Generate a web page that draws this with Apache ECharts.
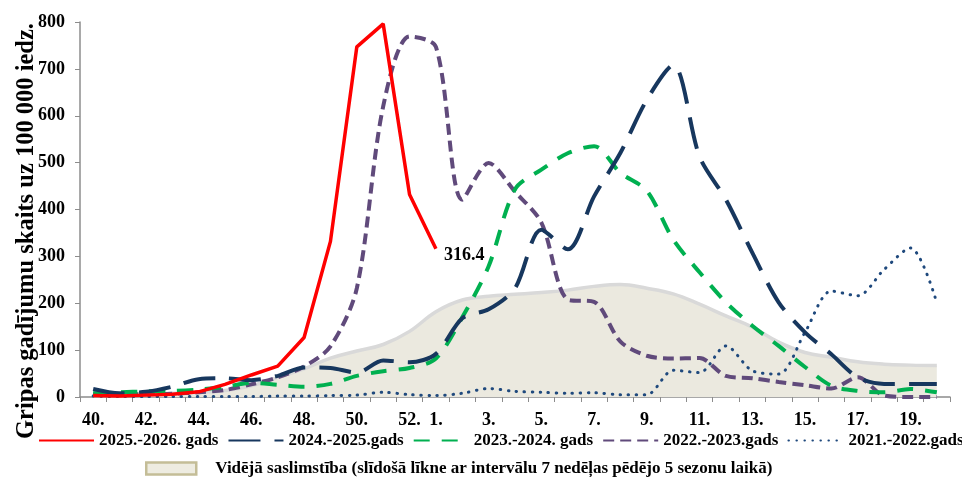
<!DOCTYPE html>
<html>
<head>
<meta charset="utf-8">
<script src="https://cdn.jsdelivr.net/npm/echarts@6/dist/echarts.min.js"></script>
<style>
html,body{margin:0;padding:0;background:#fff;}
#chart{width:962px;height:477px;}
</style>
</head>
<body>
<div id="chart"></div>
<script>
// Weeks (category axis)
const weeks = ['40.','41.','42.','43.','44.','45.','46.','47.','48.','49.','50.','51.','52.',
  '1.','2.','3.','4.','5.','6.','7.','8.','9.','10.','11.','12.','13.','14.','15.','16.','17.','18.','19.','20.'];

const season2526 = [3, 2, 4, 6, 11, 27, 47, 66, 127, 332, 747, 796, 432, 316.4];
const season2425 = [17, 8, 11, 22, 38, 40, 36, 45, 63, 62, 52, 78, 74, 92, 168, 187, 232, 357, 315, 428, 521, 634, 708, 513, 421, 308, 202, 138, 91, 42, 28, 28, 28];
const season2324 = [8, 10, 12, 13, 16, 22, 30, 26, 22, 28, 45, 55, 62, 82, 170, 279, 443, 485, 520, 535, 478, 440, 336, 266, 202, 152, 109, 64, 24, 13, 10, 17, 10];
const season2223 = [6, 5, 6, 7, 10, 15, 27, 42, 65, 108, 232, 620, 769, 747, 421, 499, 438, 372, 208, 203, 118, 88, 82, 83, 45, 40, 32, 25, 18, 42, 3, 0, 0];
const season2122 = [2, 1, 1, 1, 1, 1, 1, 2, 2, 3, 4, 10, 5, 3, 8, 18, 12, 10, 8, 9, 5, 5, 57, 52, 109, 56, 49, 138, 226, 216, 272, 318, 201];
const averageArea = [5, 6, 7, 8, 10, 14, 24, 42, 60, 83, 98, 112, 140, 182, 207, 215, 219, 223, 228, 236, 240, 232, 220, 198, 173, 149, 117, 95, 85, 75, 70, 68, 67];

const names = ['2025.-2026. gads', '2024.-2025.gads', '2023.-2024. gads', '2022.-2023.gads', '2021.-2022.gads'];
const areaName = 'Vidējā saslimstība (slīdošā līkne ar intervālu 7 nedēļas pēdējo 5 sezonu laikā)';
const yTitle = 'Gripas gadījumu skaits uz 100 000 iedz.';

const FONT = "'Liberation Serif', 'Times New Roman', serif";

const chart = echarts.init(document.getElementById('chart'), null, {renderer: 'canvas'});

const option = {
  animation: false,
  backgroundColor: '#ffffff',
  grid: {left: 80, right: 12, top: 22, bottom: 80, containLabel: false},
  xAxis: {
    type: 'category',
    data: weeks,
    boundaryGap: true,
    axisLine: {lineStyle: {color: '#8c8c8c', width: 1.5}},
    axisTick: {show: true, interval: 0, length: 5, lineStyle: {color: '#8c8c8c'}},
    axisLabel: {
      interval: function (idx) { return idx <= 12 ? idx % 2 === 0 : idx % 2 === 1; },
      color: '#000', fontFamily: FONT, fontWeight: 'bold', fontSize: 18, margin: 14
    },
    splitLine: {show: false}
  },
  yAxis: {
    type: 'value',
    min: 0, max: 800, interval: 100,
    axisLine: {show: true, lineStyle: {color: '#8c8c8c', width: 1.5}},
    axisTick: {show: true, length: 5, lineStyle: {color: '#8c8c8c'}},
    axisLabel: {color: '#000', fontFamily: FONT, fontWeight: 'bold', fontSize: 18, margin: 15},
    splitLine: {show: false}
  },
  legend: [
    {
      data: names,
      left: 33, top: 427,
      width: 960,
      itemWidth: 55, itemHeight: 14, itemGap: 9,
      itemStyle: {opacity: 0},
      textStyle: {color: '#000', fontFamily: FONT, fontWeight: 'bold', fontSize: 17}
    },
    {
      data: [{name: areaName, icon: 'rect', itemStyle: {color: '#eeece1', borderColor: '#c4bd97', borderWidth: 2.5}}],
      left: 140, top: 455,
      itemWidth: 50, itemHeight: 12,
      textStyle: {color: '#000', fontFamily: FONT, fontWeight: 'bold', fontSize: 17, padding: [0, 0, 0, 14]}
    }
  ],
  graphic: [{
    type: 'text',
    x: 27, y: 231,
    rotation: Math.PI / 2,
    style: {
      text: yTitle,
      fill: '#000',
      font: 'bold 24.5px ' + FONT,
      textAlign: 'center',
      textVerticalAlign: 'middle'
    }
  }],
  series: [
    {
      name: areaName,
      type: 'line',
      data: averageArea,
      smooth: 0.4,
      symbol: 'none',
      z: 1,
      lineStyle: {color: '#d9d9d9', width: 3.5},
      itemStyle: {color: '#eeece1'},
      areaStyle: {color: '#ebe9df', opacity: 1}
    },
    {
      name: names[4],
      type: 'line',
      data: season2122,
      smooth: 0.3,
      symbol: 'none',
      z: 3,
      lineStyle: {color: '#1f497d', width: 3, type: [0.5, 7.5], cap: 'round'},
      itemStyle: {color: '#1f497d'}
    },
    {
      name: names[3],
      type: 'line',
      data: season2223,
      smooth: 0.3,
      symbol: 'none',
      z: 4,
      lineStyle: {color: '#604a7b', width: 4, type: [11, 6]},
      itemStyle: {color: '#604a7b'}
    },
    {
      name: names[2],
      type: 'line',
      data: season2324,
      smooth: 0.3,
      symbol: 'none',
      z: 5,
      lineStyle: {color: '#00b050', width: 4, type: [16, 12]},
      itemStyle: {color: '#00b050'}
    },
    {
      name: names[1],
      type: 'line',
      data: season2425,
      smooth: 0.3,
      symbol: 'none',
      z: 6,
      lineStyle: {color: '#17375e', width: 4, type: [32, 14]},
      itemStyle: {color: '#17375e'}
    },
    {
      name: names[0],
      type: 'line',
      data: season2526,
      smooth: false,
      symbol: 'none',
      z: 7,
      lineStyle: {color: '#ff0000', width: 3.5},
      itemStyle: {color: '#ff0000'},
      endLabel: {
        show: true,
        formatter: function (p) { return String(p.value); },
        color: '#000', fontFamily: FONT, fontWeight: 'bold', fontSize: 18,
        distance: 8, offset: [0, 7]
      }
    }
  ]
};

chart.setOption(option);
</script>
</body>
</html>
